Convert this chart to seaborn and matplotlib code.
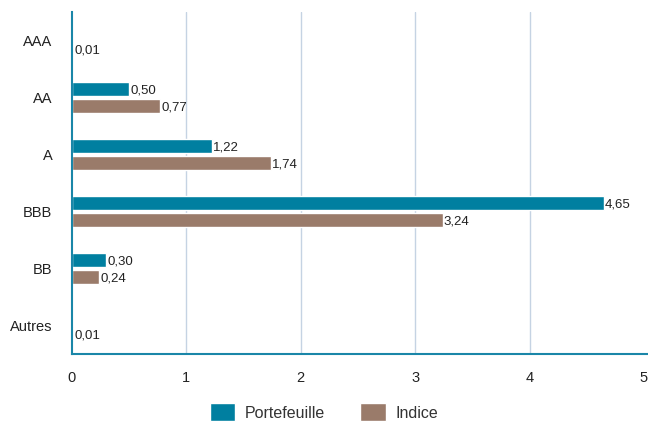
import pandas as pd
import numpy as np
import seaborn as sns
import matplotlib.pyplot as plt
from matplotlib.patches import Patch

# Données
categories  = ["AAA", "AA", "A", "BBB", "BB", "Autres"]
portefeuille = [0.00, 0.50, 1.22, 4.65, 0.30, 0.00]
indice       = [0.01, 0.77, 1.74, 3.24, 0.24, 0.01]
series = ["Portefeuille", "Indice"]
couleurs = ["#007fa0", "#9a7b6a"]
x_ticks = [0, 1, 2, 3, 4, 5]

df = pd.DataFrame({
    "cat": categories * 2,
    "val": portefeuille + indice,
    "serie": [series[0]] * len(categories) + [series[1]] * len(categories),
})

sns.set_theme(style="white")
plt.rcParams["font.family"] = ["Liberation Sans", "DejaVu Sans"]

fig = plt.figure(figsize=(6.48, 4.25), dpi=100)
ax = fig.add_axes([0.111, 0.167, 0.889, 0.805])

sns.barplot(data=df, y="cat", x="val", hue="serie", order=categories,
            hue_order=series, palette=couleurs, orient="h",
            width=0.6, gap=0.2, saturation=1, legend=False, ax=ax)

# étiquettes de valeur
for cont in ax.containers:
    for bar in cont:
        w = bar.get_width()
        if w <= 0:
            continue
        y = bar.get_y() + bar.get_height() / 2
        ax.text(w + 0.01, y + 0.03, f"{w:.2f}".replace(".", ","),
                ha="left", va="center", fontsize=9.5, color="#222222")

ax.set_xlim(0, 5.035)
ax.set_ylim(len(categories) - 0.5, -0.5)
ax.set_xticks(x_ticks)
ax.set_xticklabels([str(t) for t in x_ticks], fontsize=10.5, color="#222222")
ax.tick_params(axis="x", length=0, pad=12)
ax.tick_params(axis="y", which="major", length=0, pad=14, labelsize=10.5,
               labelcolor="#222222")
ax.set_yticks(np.arange(-0.5, len(categories), 1), minor=True)
ax.tick_params(axis="y", which="minor", length=14, width=1, color="#c5d3e3")
ax.set_axisbelow(True)
# grille verticale (pas de ligne à 5)
for t in x_ticks[1:-1]:
    ax.axvline(t, color="#c5d3e3", linewidth=1, zorder=0)
ax.set_xlabel("")
ax.set_ylabel("")

for s in ["top", "right"]:
    ax.spines[s].set_visible(False)
for s in ["left", "bottom"]:
    ax.spines[s].set_color("#1a86a8")
    ax.spines[s].set_linewidth(1.5)

handles = [Patch(facecolor=c, label=s) for s, c in zip(series, couleurs)]
fig.legend(handles=handles, loc="center", bbox_to_anchor=(0.5, 0.03),
           ncol=2, frameon=False, fontsize=11.5, handlelength=1.6,
           handleheight=1.4, handletextpad=0.6, columnspacing=2.2,
           labelcolor="#333333")

fig.savefig("out.png", dpi=100)
